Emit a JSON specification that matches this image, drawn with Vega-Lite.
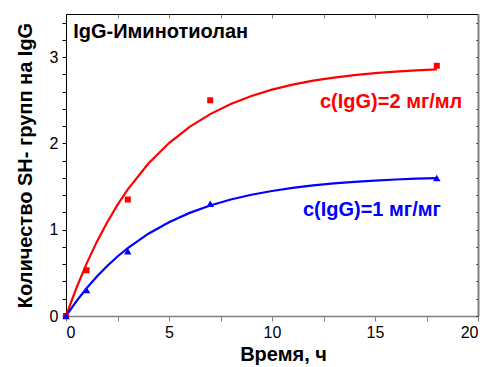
{
  "$schema": "https://vega.github.io/schema/vega-lite/v6.json",
  "autosize": "none",
  "padding": {"left": 66, "top": 14, "right": 11, "bottom": 51},
  "width": 412,
  "height": 302,
  "background": "white",
  "config": {
    "view": {"stroke": null},
    "font": "Liberation Sans",
    "axis": {"grid": false, "labelFont": "Liberation Sans", "titleFont": "Liberation Sans"}
  },
  "datasets": {
    "points": [
      {"t": 0, "n": 0, "series": "2"},
      {"t": 1, "n": 0.53, "series": "2"},
      {"t": 3, "n": 1.35, "series": "2"},
      {"t": 7, "n": 2.5, "series": "2"},
      {"t": 18, "n": 2.9, "series": "2"},
      {"t": 0, "n": 0, "series": "1"},
      {"t": 1, "n": 0.3, "series": "1"},
      {"t": 3, "n": 0.75, "series": "1"},
      {"t": 7, "n": 1.3, "series": "1"},
      {"t": 18, "n": 1.6, "series": "1"}
    ],
    "curves": [
      {"t": 0, "n": 0, "series": "2"},
      {"t": 0.5, "n": 0.322, "series": "2"},
      {"t": 1, "n": 0.607, "series": "2"},
      {"t": 1.5, "n": 0.862, "series": "2"},
      {"t": 2, "n": 1.087, "series": "2"},
      {"t": 2.5, "n": 1.288, "series": "2"},
      {"t": 3, "n": 1.467, "series": "2"},
      {"t": 4, "n": 1.767, "series": "2"},
      {"t": 5, "n": 2.004, "series": "2"},
      {"t": 6, "n": 2.192, "series": "2"},
      {"t": 7, "n": 2.34, "series": "2"},
      {"t": 8, "n": 2.457, "series": "2"},
      {"t": 9, "n": 2.55, "series": "2"},
      {"t": 10, "n": 2.623, "series": "2"},
      {"t": 11, "n": 2.681, "series": "2"},
      {"t": 12, "n": 2.727, "series": "2"},
      {"t": 13, "n": 2.763, "series": "2"},
      {"t": 14, "n": 2.792, "series": "2"},
      {"t": 15, "n": 2.815, "series": "2"},
      {"t": 16, "n": 2.832, "series": "2"},
      {"t": 17, "n": 2.847, "series": "2"},
      {"t": 18, "n": 2.858, "series": "2"},
      {"t": 0, "n": 0, "series": "1"},
      {"t": 0.5, "n": 0.17, "series": "1"},
      {"t": 1, "n": 0.322, "series": "1"},
      {"t": 1.5, "n": 0.458, "series": "1"},
      {"t": 2, "n": 0.58, "series": "1"},
      {"t": 2.5, "n": 0.69, "series": "1"},
      {"t": 3, "n": 0.787, "series": "1"},
      {"t": 4, "n": 0.954, "series": "1"},
      {"t": 5, "n": 1.087, "series": "1"},
      {"t": 6, "n": 1.195, "series": "1"},
      {"t": 7, "n": 1.281, "series": "1"},
      {"t": 8, "n": 1.35, "series": "1"},
      {"t": 9, "n": 1.405, "series": "1"},
      {"t": 10, "n": 1.449, "series": "1"},
      {"t": 11, "n": 1.485, "series": "1"},
      {"t": 12, "n": 1.514, "series": "1"},
      {"t": 13, "n": 1.537, "series": "1"},
      {"t": 14, "n": 1.555, "series": "1"},
      {"t": 15, "n": 1.57, "series": "1"},
      {"t": 16, "n": 1.582, "series": "1"},
      {"t": 17, "n": 1.591, "series": "1"},
      {"t": 18, "n": 1.599, "series": "1"}
    ],
    "labels": [
      {"t": 12.33, "n": 2.48, "series": "2", "text": "c(IgG)=2 мг/мл"},
      {"t": 11.5, "n": 1.23, "series": "1", "text": "c(IgG)=1 мг/мг"}
    ]
  },
  "layer": [
    {
      "data": {"name": "curves"},
      "mark": {"type": "line", "strokeWidth": 2.2, "clip": false},
      "encoding": {
        "x": {
          "field": "t", "type": "quantitative",
          "scale": {"domain": [0, 20], "nice": false, "zero": false},
          "axis": {
            "orient": "bottom",
            "values": [0, 2.5, 5, 7.5, 10, 12.5, 15, 17.5, 20],
            "labelExpr": "datum.value % 5 == 0 ? format(datum.value, 'd') : ''",
            "title": "Время, ч",
            "titleFontSize": 20, "titleFontWeight": "bold", "titleColor": "black",
            "titlePadding": 4, "titleX": 217,
            "labelFontSize": 16, "labelColor": "black", "labelPadding": 3,
            "tickSize": 5, "domainColor": "#808080", "tickColor": "#808080", "domainWidth": 1.5
          }
        },
        "y": {
          "field": "n", "type": "quantitative",
          "scale": {"domain": [0, 3.5], "nice": false},
          "axis": {
            "orient": "left",
            "values": [0, 0.2, 0.4, 0.6, 0.8, 1, 1.2, 1.4, 1.6, 1.8, 2, 2.2, 2.4, 2.6, 2.8, 3, 3.2, 3.4],
            "labelExpr": "datum.value % 1 == 0 ? format(datum.value, 'd') : ''",
            "title": "Количество SH- групп на IgG",
            "titleFontSize": 20, "titleFontWeight": "bold", "titleColor": "black",
            "titlePadding": 14,
            "labelFontSize": 16, "labelColor": "black", "labelPadding": 4,
            "tickSize": 4, "domainColor": "black", "tickColor": "black"
          }
        },
        "color": {
          "field": "series", "type": "nominal",
          "scale": {"domain": ["2", "1"], "range": ["#ff0000", "#0000ff"]},
          "legend": null
        }
      }
    },
    {
      "data": {"name": "points"},
      "mark": {"type": "point", "filled": true, "opacity": 1, "clip": false},
      "encoding": {
        "x": {"field": "t", "type": "quantitative", "axis": null},
        "y": {"field": "n", "type": "quantitative", "axis": null},
        "color": {"field": "series", "type": "nominal", "legend": null},
        "shape": {
          "field": "series", "type": "nominal",
          "scale": {"domain": ["2", "1"], "range": ["square", "triangle-up"]},
          "legend": null
        },
        "size": {
          "field": "series", "type": "nominal",
          "scale": {"domain": ["2", "1"], "range": [36, 55]},
          "legend": null
        }
      }
    },
    {
      "data": {"name": "labels"},
      "mark": {"type": "text", "align": "left", "baseline": "middle", "fontSize": 20, "fontWeight": "bold"},
      "encoding": {
        "x": {"field": "t", "type": "quantitative", "axis": null},
        "y": {"field": "n", "type": "quantitative", "axis": null},
        "text": {"field": "text"},
        "color": {"field": "series", "type": "nominal", "legend": null}
      }
    },
    {
      "data": {"values": [{"t": 0.35, "n": 3.29, "text": "IgG-Иминотиолан"}]},
      "mark": {"type": "text", "align": "left", "baseline": "middle", "fontSize": 20, "fontWeight": "bold", "color": "black"},
      "encoding": {
        "x": {"field": "t", "type": "quantitative", "axis": null},
        "y": {"field": "n", "type": "quantitative", "axis": null},
        "text": {"field": "text"}
      }
    },
    {
      "data": {"values": [{"t": 0, "n": 0}]},
      "mark": {"type": "point", "opacity": 0},
      "encoding": {
        "x": {
          "field": "t", "type": "quantitative",
          "axis": {
            "orient": "top", "values": [0, 2.5, 5, 7.5, 10, 12.5, 15, 17.5, 20],
            "labels": false, "title": null, "tickSize": -4, "domainColor": "black", "tickColor": "#808080"
          }
        },
        "y": {
          "field": "n", "type": "quantitative",
          "axis": {
            "orient": "right",
            "values": [0, 0.2, 0.4, 0.6, 0.8, 1, 1.2, 1.4, 1.6, 1.8, 2, 2.2, 2.4, 2.6, 2.8, 3, 3.2, 3.4],
            "labels": false, "title": null, "tickSize": -2, "domainColor": "#808080", "domainWidth": 2, "tickColor": "black"
          }
        }
      }
    }
  ],
  "resolve": {"axis": {"x": "independent", "y": "independent"}}
}
